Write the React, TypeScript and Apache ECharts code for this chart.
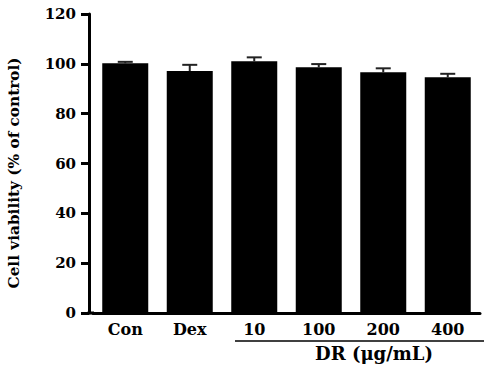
import React, { useEffect, useRef } from "react";
import * as echarts from "echarts";

const categories = ["Con", "Dex", "10", "100", "200", "400"];
const viability = [100.2, 97.1, 101.0, 98.6, 96.6, 94.6];
const sem = [0.6, 2.5, 1.6, 1.3, 1.6, 1.4];
const yTicks = { min: 0, max: 120, interval: 20 };
const yTitle = "Cell viability (% of control)";
const groupLabel = "DR (μg/mL)";

const FONT = "DejaVu Serif";

export default function App() {
  const ref = useRef<HTMLDivElement>(null);
  useEffect(() => {
    if (!ref.current) return;
    const chart = echarts.init(ref.current, undefined, { renderer: "svg" });
    const errData = categories.map((c, i) => [i, viability[i], viability[i] + sem[i]]);
    chart.setOption({
      animation: false,
      grid: { left: 93, right: 4, top: 14, bottom: 52 },
      xAxis: {
        type: "category",
        data: categories,
        axisTick: { show: false },
        axisLine: { lineStyle: { color: "#000", width: 3 } },
        axisLabel: {
          color: "#000",
          fontFamily: FONT,
          fontWeight: "bold",
          fontSize: 16,
          margin: 8,
        },
      },
      yAxis: {
        type: "value",
        min: yTicks.min,
        max: yTicks.max,
        interval: yTicks.interval,
        offset: 4,
        splitLine: { show: false },
        axisLine: { show: true, lineStyle: { color: "#000", width: 3 } },
        axisTick: { show: true, length: 8, lineStyle: { color: "#000", width: 3 } },
        axisLabel: {
          color: "#000",
          fontFamily: FONT,
          fontWeight: "bold",
          fontSize: 15,
          margin: 13,
        },
      },
      series: [
        {
          type: "bar",
          data: viability,
          barWidth: 46,
          itemStyle: { color: "#000" },
          z: 2,
        },
        {
          type: "custom",
          data: errData,
          z: 3,
          renderItem: (params: any, api: any) => {
            const x = api.value(0);
            const lo = api.coord([x, api.value(1)]);
            const hi = api.coord([x, api.value(2)]);
            const half = 7.5;
            return {
              type: "group",
              children: [
                {
                  type: "line",
                  shape: { x1: lo[0], y1: lo[1], x2: hi[0], y2: hi[1] },
                  style: { stroke: "#222", lineWidth: 2 },
                },
                {
                  type: "line",
                  shape: { x1: hi[0] - half, y1: hi[1], x2: hi[0] + half, y2: hi[1] },
                  style: { stroke: "#222", lineWidth: 2 },
                },
              ],
            };
          },
        },
      ],
      graphic: [
        {
          type: "line",
          shape: { x1: 87.5, y1: 313, x2: 94, y2: 313 },
          style: { stroke: "#000", lineWidth: 3 },
        },
        {
          type: "text",
          x: 14,
          y: 173,
          rotation: Math.PI / 2,
          style: {
            text: yTitle,
            fontFamily: FONT,
            fontWeight: "bold",
            fontSize: 15.3,
            fill: "#000",
            align: "center",
            verticalAlign: "middle",
          },
        },
        {
          type: "line",
          shape: { x1: 235, y1: 341, x2: 484, y2: 341 },
          style: { stroke: "#000", lineWidth: 1.5 },
        },
        {
          type: "text",
          x: 374,
          y: 353,
          style: {
            text: groupLabel,
            fontFamily: FONT,
            fontWeight: "bold",
            fontSize: 18,
            fill: "#000",
            align: "center",
            verticalAlign: "middle",
          },
        },
      ],
    });
    return () => chart.dispose();
  }, []);
  return (
    <div
      ref={ref}
      style={{ position: "fixed", left: 0, top: 0, width: 484, height: 365, background: "#fff" }}
    />
  );
}
